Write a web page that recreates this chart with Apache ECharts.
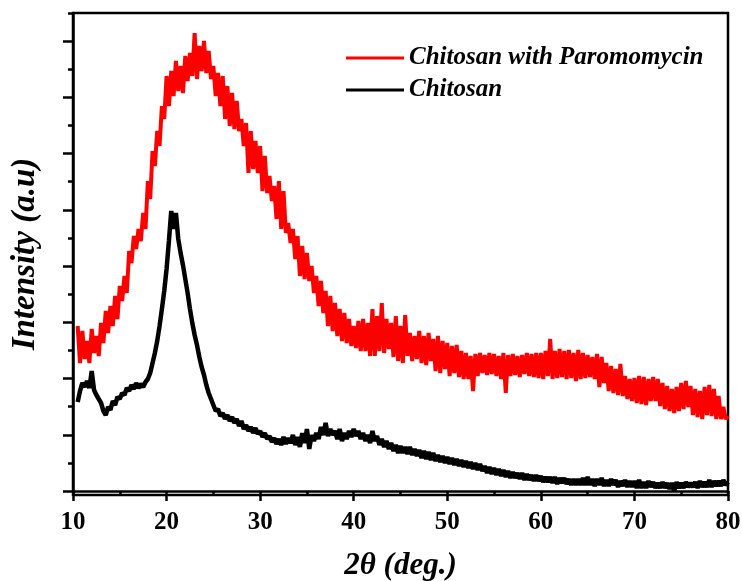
<!DOCTYPE html>
<html><head><meta charset="utf-8">
<script src="https://cdn.jsdelivr.net/npm/echarts@6/dist/echarts.min.js"></script>
<style>html,body{margin:0;padding:0;background:#fff}#c{width:742px;height:581px}</style>
</head><body><div id="c"></div>
<script>
// sampling of 2-theta (deg.)
const xStart = 10.5;
const xStep = 0.25;
const xMin = 10, xMax = 80, xInterval = 10;
const yMin = -4, yMax = 478;
const yMajorTicks = [0, 56.25, 112.5, 168.75, 225, 281.25, 337.5, 393.75, 450];
const yMinorTicks = [28.125, 84.375, 140.625, 196.875, 253.125, 309.375, 365.625, 421.875, 478];
const seriesNames = ['Chitosan with Paromomycin', 'Chitosan'];
const seriesColors = ['#ff0000', '#000000'];

// intensity (a.u.), one value per 0.25 deg from 10.5 to 80
const redValues = [
165,128,
160,132,150,128, 162,138,155,135, 168,148,180,158, 185,165,195,172,
205,190,215,198, 240,228,255,242, 262,250,278,262, 310,292,340,325,
360,345,385,372, 415,385,420,395, 430,400,425,398, 435,410,438,415,
458,412,445,420, 450,418,440,412, 425,395,418,385, 415,372,405,365,
398,362,390,360, 372,345,368,318, 360,322,350,318, 345,300,335,298,
315,290,305,272, 310,262,300,258, 268,248,262,232, 255,215,245,212,
238,210,225,198, 215,185,210,178, 200,165,195,160, 188,155,182,150,
178,148,172,145, 165,143,170,140, 172,140,168,135, 182,135,175,140,
188,138,172,142, 168,134,175,130, 165,128,176,135, 158,130,155,132,
160,128,155,126, 158,130,152,120, 155,118,150,122, 148,115,145,118,
146,114,140,112, 138,112,135,100, 137,115,138,118, 136,116,138,117,
137,115,135,112, 138,98,136,115, 137,116,135,114, 136,117,138,115,
137,114,138,113, 138,112,140,115, 152,112,140,113, 142,114,140,112,
141,113,138,110, 141,112,138,113, 136,114,134,112, 137,104,134,108,
128,100,125,98, 122,96,127,95, 115,92,112,90, 113,88,115,87,
114,86,112,90, 114,90,112,85, 108,82,105,80, 102,78,104,80,
108,82,110,84, 105,76,102,74, 100,72,104,76, 106,75,102,72,
95,72,84,72,
75
];
const blackValues = [
89,100,
108,104,110,103, 120,101,96,92, 88,80,76,84, 81,90,86,94,
92,98,96,103, 100,106,102,108, 103,107,104,109, 112,118,128,138,
150,165,182,200, 222,250,280,262, 278,252,238,226, 212,198,182,168,
156,146,134,124, 116,106,98,92, 86,80,82,75, 78,72,76,70,
74,68,72,65, 70,62,66,60, 64,58,63,57, 60,54,58,52,
55,49,53,47, 52,46,54,47, 53,48,56,46, 54,44,58,48,
62,42,56,50, 58,52,64,56, 68,55,62,56, 60,52,62,50,
58,52,60,54, 62,55,60,52, 58,50,56,48, 60,50,55,46,
52,44,50,42, 48,40,46,38, 45,38,44,37, 44,36,42,35,
41,33,40,32, 39,31,38,30, 36,29,35,28, 34,27,33,26,
32,25,31,24, 30,23,29,22, 28,21,27,20, 25,18,24,17,
23,16,22,15, 21,14,20,13, 19,13,18,12, 18,11,17,11,
16,10,16,10, 15,9,14,9, 14,8,14,7, 13,8,13,7,
12,6,12,6, 12,6,13,6, 14,6,12,5, 12,6,13,5,
11,5,12,6, 11,4,10,5, 11,4,10,4, 10,3,11,3,
9,3,10,4, 9,3,8,3, 9,3,8,2, 8,0,9,3,
8,3,9,4, 8,4,9,3, 10,4,9,4, 11,4,10,5,
10,5,11,6,
9
];

const toPairs = arr => arr.map((v, i) => [xStart + i * xStep, v]);
const font = 'Liberation Serif';
const tickLine = {color: '#000', width: 2.5};

const chart = echarts.init(document.getElementById('c'), null, {renderer: 'canvas'});
chart.setOption({
  animation: false,
  backgroundColor: '#fff',
  grid: {left: 73, right: 14, top: 13, bottom: 86, containLabel: false, outerBoundsMode: 'none', show: true, borderColor: '#000', borderWidth: 2.5, backgroundColor: 'transparent'},
  legend: {
    data: seriesNames,
    orient: 'vertical',
    left: 341, top: 39,
    itemWidth: 58, itemHeight: 3,
    itemGap: 4,
    icon: 'rect',
    textStyle: {fontFamily: font, fontWeight: 'bold', fontStyle: 'italic', fontSize: 25, color: '#000', lineHeight: 28}
  },
  xAxis: {
    type: 'value', min: xMin, max: xMax, interval: xInterval,
    name: '2θ (deg.)', nameLocation: 'middle', nameGap: 55,
    nameTextStyle: {fontFamily: font, fontWeight: 'bold', fontStyle: 'italic', fontSize: 31, color: '#000'},
    axisLine: {show: true, lineStyle: {color: '#000', width: 2.5}},
    axisTick: {show: true, inside: false, length: 10, lineStyle: tickLine},
    minorTick: {show: true, splitNumber: 2, length: 5, lineStyle: tickLine},
    axisLabel: {fontFamily: font, fontWeight: 'bold', fontSize: 25, color: '#000', margin: 15},
    splitLine: {show: false}
  },
  yAxis: [
    {
      type: 'value', min: yMin, max: yMax, position: 'left', offset: 0,
      name: 'Intensity (a.u)', nameLocation: 'middle', nameGap: 31,
      nameTextStyle: {fontFamily: font, fontWeight: 'bold', fontStyle: 'italic', fontSize: 33, color: '#000'},
      axisLine: {show: true, lineStyle: {color: '#000', width: 2.5}},
      axisTick: {show: true, inside: false, length: 10, customValues: yMajorTicks, lineStyle: tickLine},
      axisLabel: {show: false}, splitLine: {show: false}
    },
    {
      type: 'value', min: yMin, max: yMax, position: 'left', offset: 0,
      axisLine: {show: false},
      axisTick: {show: true, inside: false, length: 5, customValues: yMinorTicks, lineStyle: tickLine},
      axisLabel: {show: false}, splitLine: {show: false}
    }
  ],
  series: [
    {name: seriesNames[0], type: 'line', yAxisIndex: 0, data: toPairs(redValues), showSymbol: false, color: seriesColors[0], lineStyle: {color: seriesColors[0], width: 4}},
    {name: seriesNames[1], type: 'line', yAxisIndex: 0, data: toPairs(blackValues), showSymbol: false, color: seriesColors[1], lineStyle: {color: seriesColors[1], width: 4.5}}
  ]
});
</script>
</body></html>
